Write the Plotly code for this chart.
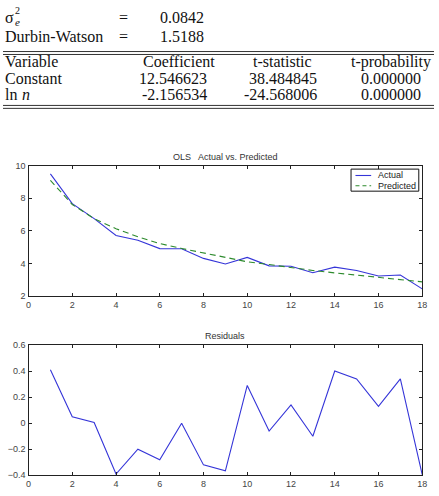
import plotly.graph_objects as go

W, H = 439, 496

# ---- data ----
obs = list(range(1, 19))
actual = [9.50, 7.67, 6.75, 5.72, 5.42, 4.91, 4.90, 4.31, 3.97, 4.37,
          3.85, 3.83, 3.43, 3.77, 3.57, 3.23, 3.29, 2.44]
predicted = [9.10, 7.62, 6.75, 6.13, 5.64, 5.22, 4.92, 4.64, 4.38, 4.10,
             3.93, 3.74, 3.57, 3.42, 3.28, 3.15, 3.02, 2.87]
residuals = [0.41, 0.05, 0.005, -0.39, -0.20, -0.28, 0.00, -0.32, -0.365, 0.29,
             -0.06, 0.14, -0.10, 0.40, 0.34, 0.13, 0.34, -0.395]

stat_labels = ["\u03c3", "Durbin-Watson"]
stat_values = ["0.0842", "1.5188"]
table_header = ["Variable", "Coefficient", "t-statistic", "t-probability"]
table_vars = ["Constant", "ln"]
coef = ["12.546623", "-2.156534"]
tstat = ["38.484845", "-24.568006"]
tprob = ["0.000000", "0.000000"]

xticks = [0, 2, 4, 6, 8, 10, 12, 14, 16, 18]
series_names = ["Actual", "Predicted"]

BLUE = "#3535d8"
GREEN = "#2e8b2e"

def px(x):
    return x / W

def py(y):
    return 1 - y / H

fig = go.Figure()
fig.add_trace(go.Scatter(x=obs, y=actual, mode="lines", name=series_names[0],
                         line=dict(color=BLUE, width=1.1), xaxis="x", yaxis="y"))
fig.add_trace(go.Scatter(x=obs, y=predicted, mode="lines", name=series_names[1],
                         line=dict(color=GREEN, width=1.1, dash="6px,4px"),
                         xaxis="x", yaxis="y"))
fig.add_trace(go.Scatter(x=obs, y=residuals, mode="lines", name="Residuals",
                         line=dict(color=BLUE, width=1.1),
                         xaxis="x2", yaxis="y2"))

axis_common = dict(showline=True, linecolor="#222", linewidth=1.2, mirror="allticks",
                   ticks="inside", ticklen=3, tickcolor="#222", showgrid=False,
                   zeroline=False, tickfont=dict(family="Liberation Sans", size=9, color="#444"))

fig.update_layout(
    width=W, height=H, margin=dict(l=0, r=0, t=0, b=0),
    paper_bgcolor="white", plot_bgcolor="white",
    xaxis=dict(domain=[px(26), px(427)], range=[0, 18], tickvals=xticks,
               anchor="y", **axis_common),
    yaxis=dict(domain=[py(297), py(164)], range=[2, 10], tickvals=[2, 4, 6, 8, 10],
               anchor="x", **axis_common),
    xaxis2=dict(domain=[px(26), px(427)], range=[0, 18], tickvals=xticks,
                anchor="y2", **axis_common),
    yaxis2=dict(domain=[py(480), py(347)], range=[-0.4, 0.6],
                tickvals=[-0.4, -0.2, 0, 0.2, 0.4, 0.6],
                ticktext=["\u22120.4", "\u22120.2", "0", "0.2", "0.4", "0.6"],
                anchor="x2", **axis_common),
    showlegend=False,
)

annotations = []

def text(x, y, s, anchor="left", size=16, family="Liberation Serif", color="#111",
         style="normal"):
    annotations.append(dict(x=px(x), y=py(y), xref="paper", yref="paper", text=s,
                            showarrow=False, xanchor=anchor, yanchor="middle",
                            font=dict(family=family, size=size, color=color, style=style)))

# chart titles
text(226.5, 155, "OLS   Actual vs. Predicted", "center", 9, "Liberation Sans", "#333")
text(226.5, 338, "Residuals", "center", 9, "Liberation Sans", "#333")

# statistics block
text(0, 13, stat_labels[0], "left", 16)
text(10, 6, "2", "left", 10)
text(10, 17, "e", "left", 11, style="italic")
text(123, 13, "=", "center", 16)
text(158, 13, stat_values[0], "left", 16)
text(0, 32, stat_labels[1], "left", 16)
text(123, 32, "=", "center", 16)
text(158, 32, stat_values[1], "left", 16)

# table
text(0, 58, table_header[0], "left", 16)
text(179, 58, table_header[1], "center", 16)
text(285, 58, table_header[2], "center", 16)
text(395, 58, table_header[3], "center", 16)

row_y = [75, 91]
for i in range(2):
    text(0, row_y[i], table_vars[i], "left", 16)
    text(210, row_y[i], coef[i], "right", 16)
    text(322, row_y[i], tstat[i], "right", 16)
    text(428, row_y[i], tprob[i], "right", 16)
text(17, row_y[1], "n", "left", 16, style="italic")

# custom compact legend (text)
text(380, 174, series_names[0], "left", 9, "Liberation Sans", "#222")
text(380, 184.5, series_names[1], "left", 9, "Liberation Sans", "#222")

fig.update_layout(annotations=annotations)

shapes = []
for yy in [47.5, 50.5, 102.5, 105.5]:
    shapes.append(dict(type="line", xref="paper", yref="paper", x0=0, x1=1,
                       y0=py(yy), y1=py(yy), line=dict(color="#333", width=1)))
# legend box and samples
shapes.append(dict(type="rect", xref="paper", yref="paper", x0=px(354.5), x1=px(423.5),
                   y0=py(190), y1=py(167.5), line=dict(color="#111", width=1),
                   fillcolor="white", layer="above"))
shapes.append(dict(type="line", xref="paper", yref="paper", x0=px(359), x1=px(375),
                   y0=py(174), y1=py(174), line=dict(color=BLUE, width=1.1), layer="above"))
shapes.append(dict(type="line", xref="paper", yref="paper", x0=px(359), x1=px(375),
                   y0=py(184.5), y1=py(184.5), line=dict(color=GREEN, width=1.1, dash="4px,3px"),
                   layer="above"))
fig.update_layout(shapes=shapes)

fig.write_html("out.html")
